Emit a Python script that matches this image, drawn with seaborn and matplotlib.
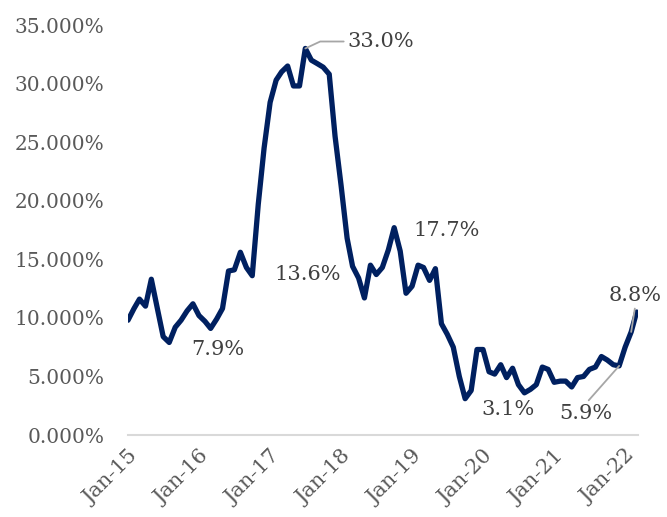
import pandas as pd
import seaborn as sns
import matplotlib.pyplot as plt
import matplotlib.dates as mdates
from matplotlib.ticker import FuncFormatter

# Monthly values (%), Jan-15 .. Mar-22
months = pd.date_range("2015-01-01", "2022-03-01", freq="MS")
values = [
    9.8, 10.8, 11.6, 11.0, 13.3, 10.8, 8.4, 7.9, 9.2, 9.8, 10.6, 11.2,      # 2015
    10.2, 9.7, 9.1, 9.9, 10.8, 14.0, 14.1, 15.6, 14.3, 13.6, 19.7, 24.5,    # 2016
    28.4, 30.3, 31.0, 31.5, 29.8, 29.8, 33.0, 32.0, 31.7, 31.4, 30.8, 25.5, # 2017
    21.3, 16.8, 14.4, 13.4, 11.7, 14.5, 13.7, 14.3, 15.8, 17.7, 15.7, 12.1, # 2018
    12.7, 14.5, 14.3, 13.2, 14.2, 9.5, 8.6, 7.5, 5.0, 3.1, 3.8, 7.3,        # 2019
    7.3, 5.4, 5.2, 6.0, 4.9, 5.7, 4.3, 3.6, 3.9, 4.3, 5.8, 5.6,             # 2020
    4.5, 4.6, 4.6, 4.1, 4.9, 5.0, 5.6, 5.8, 6.7, 6.4, 6.0, 5.9,             # 2021
    7.5, 8.8, 10.5,                                                        # 2022
]
df = pd.DataFrame({"date": months, "value": values})

# labelled points: (index in series, label text)
callouts = [(7, "7.9%"), (21, "13.6%"), (30, "33.0%"), (45, "17.7%"),
            (57, "3.1%"), (83, "5.9%"), (85, "8.8%")]

sns.set_style("white")
plt.rcParams['font.family'] = ['DejaVu Serif']

navy = "#002060"
grey_txt = "#595959"

fig = plt.figure(figsize=(6.67, 5.17), dpi=100)
ax = fig.add_axes([0.1919, 0.1586, 0.7646, 0.7930])

sns.lineplot(data=df, x="date", y="value", color=navy, linewidth=3.8, ax=ax)

ax.set_ylim(0, 35)
ax.set_xlim(pd.Timestamp("2015-01-01"), pd.Timestamp("2022-03-08"))
ax.set_yticks(range(0, 36, 5))
ax.yaxis.set_major_formatter(FuncFormatter(lambda v, p: f"{v:.3f}%"))
ax.xaxis.set_major_locator(mdates.YearLocator())
ax.xaxis.set_major_formatter(mdates.DateFormatter("Jan-%y"))

ax.set_xlabel("")
ax.set_ylabel("")
for s in ["top", "right", "left"]:
    ax.spines[s].set_visible(False)
ax.spines["bottom"].set_color("#d9d9d9")
ax.spines["bottom"].set_linewidth(1.5)

ax.tick_params(axis="y", length=0, pad=17, labelsize=14.5, labelcolor=grey_txt)
ax.tick_params(axis="x", length=5, width=1.5, color="#d9d9d9", direction="out",
               labelsize=15, labelcolor=grey_txt, pad=3)
for lab in ax.get_xticklabels():
    lab.set_rotation(45)
    lab.set_ha("right")
    lab.set_rotation_mode("anchor")

lbl = dict(fontsize=15, color="#404040")
d = df["date"]
v = df["value"]
# 7.9%, 13.6%, 17.7%, 3.1% plain labels
ax.annotate(callouts[0][1], (d[7], v[7]), xytext=(35, -5), textcoords="offset points",
            ha="center", va="center", **lbl)
ax.annotate(callouts[1][1], (d[21], v[21]), xytext=(40, 1), textcoords="offset points",
            ha="center", va="center", **lbl)
ax.annotate(callouts[3][1], (d[45], v[45]), xytext=(38, -2), textcoords="offset points",
            ha="center", va="center", **lbl)
ax.annotate(callouts[4][1], (d[57], v[57]), xytext=(31, -8), textcoords="offset points",
            ha="center", va="center", **lbl)
# 33.0% with elbow leader
ax.annotate(callouts[2][1], (d[30], v[30]), xytext=(30, 5), textcoords="offset points",
            ha="left", va="center", **lbl,
            arrowprops=dict(arrowstyle="-", color="#a6a6a6", lw=1.3,
                            shrinkA=0, shrinkB=0, relpos=(0, 0.5),
                            connectionstyle="angle,angleA=0,angleB=25,rad=0"))
# 5.9% leader
ax.annotate(callouts[5][1], (d[83], v[83]), xytext=(-24, -34), textcoords="offset points",
            ha="center", va="center", **lbl,
            arrowprops=dict(arrowstyle="-", color="#a6a6a6", lw=1.3,
                            shrinkA=0, shrinkB=0, relpos=(0.5, 1)))
# 8.8% leader
ax.annotate(callouts[6][1], (d[85], v[85]), xytext=(3, 26), textcoords="offset points",
            ha="center", va="center", **lbl,
            arrowprops=dict(arrowstyle="-", color="#a6a6a6", lw=1.3,
                            shrinkA=0, shrinkB=0, relpos=(0.5, 0)))

fig.savefig("out.png", dpi=100)
